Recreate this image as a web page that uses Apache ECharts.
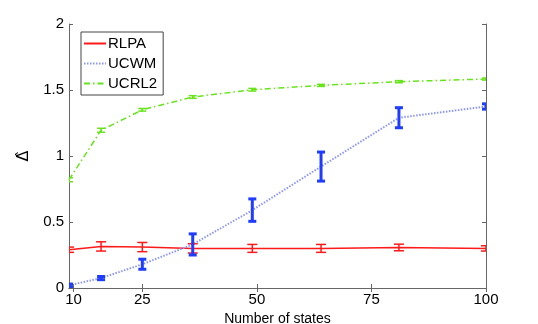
<!DOCTYPE html>
<html>
<head>
<meta charset="UTF-8">
<title>Delta vs number of states</title>
<style>
  html, body { margin: 0; padding: 0; background: #fff; }
  #chart { width: 538px; height: 324px; }
</style>
<script src="https://cdn.jsdelivr.net/npm/echarts@6/dist/echarts.min.js"></script>
</head>
<body>
<div id="chart"></div>
<script>
// data
const states = [9, 16, 25, 36, 49, 64, 81, 100];
const xTicks = [10, 25, 50, 75, 100];

const rlpaMean = [0.29, 0.315, 0.31, 0.30, 0.30, 0.30, 0.307, 0.30];
const rlpaErr  = [0.02, 0.035, 0.035, 0.035, 0.03, 0.03, 0.025, 0.02];

const ucwmMean = [0.02, 0.075, 0.18, 0.33, 0.59, 0.92, 1.29, 1.375];
const ucwmErr  = [0.01, 0.012, 0.038, 0.08, 0.085, 0.11, 0.076, 0.02];

const ucrl2Mean = [0.82, 1.195, 1.35, 1.447, 1.502, 1.535, 1.563, 1.583];
const ucrl2Err  = [0.015, 0.015, 0.01, 0.01, 0.01, 0.008, 0.008, 0.008];

const RED = '#ff1a1a', BLUE = '#1f3dff', BLUE_LINE = '#8c96ff', GREEN = '#66e61a';

function pairs(mean) { return states.map((x, i) => [x, mean[i]]); }
function bars(mean, err) { return states.map((x, i) => [x, mean[i] - err[i], mean[i] + err[i]]); }

// draws an I-shaped error bar
function errRender(color, lw, cap) {
  return function (params, api) {
    const x = api.value(0);
    const lo = api.coord([x, api.value(1)]);
    const hi = api.coord([x, api.value(2)]);
    const st = { stroke: color, lineWidth: lw };
    return {
      type: 'group',
      children: [
        { type: 'line', shape: { x1: lo[0], y1: lo[1], x2: hi[0], y2: hi[1] }, style: st },
        { type: 'line', shape: { x1: lo[0] - cap, y1: lo[1], x2: lo[0] + cap, y2: lo[1] }, style: st },
        { type: 'line', shape: { x1: hi[0] - cap, y1: hi[1], x2: hi[0] + cap, y2: hi[1] }, style: st }
      ]
    };
  };
}

const chart = echarts.init(document.getElementById('chart'));
const axisCol = '#666';
const font = 'Liberation Sans, Arial, sans-serif';

chart.setOption({
  animation: false,
  grid: { left: 69, right: 52, top: 24, bottom: 36, outerBoundsMode: 'none', containLabel: false },
  legend: {
    data: ['RLPA', 'UCWM', 'UCRL2'],
    orient: 'vertical',
    left: 81, top: 32,
    itemWidth: 22, itemHeight: 8, itemGap: 5,
    padding: [4, 6, 4, 2],
    borderColor: '#444', borderWidth: 1,
    backgroundColor: '#fff',
    itemStyle: { opacity: 0 },
    textStyle: { fontFamily: font, fontSize: 15, color: '#000', padding: [0, 0, 0, -3] }
  },
  xAxis: [{
    type: 'value', min: 9, max: 100,
    name: 'Number of states', nameLocation: 'middle', nameGap: 20,
    nameTextStyle: { fontFamily: font, fontSize: 14, color: '#000' },
    axisLine: { lineStyle: { color: axisCol } },
    axisTick: { inside: true, length: 4, customValues: xTicks, lineStyle: { color: axisCol } },
    axisLabel: { customValues: xTicks, fontFamily: font, fontSize: 15, color: '#000', margin: 4 },
    splitLine: { show: false }
  }, {
    type: 'value', min: 9, max: 100, position: 'top',
    axisLine: { show: true, lineStyle: { color: axisCol } },
    axisTick: { inside: true, length: 4, customValues: xTicks, lineStyle: { color: axisCol } },
    axisLabel: { show: false },
    splitLine: { show: false }
  }],
  yAxis: [{
    type: 'value', min: 0, max: 2, interval: 0.5,
    name: 'Δ\u0302', nameLocation: 'middle', nameGap: 29, nameRotate: 90,
    nameTextStyle: { fontFamily: 'DejaVu Sans', fontSize: 16, color: '#000' },
    axisLine: { show: true, lineStyle: { color: axisCol } },
    axisTick: { inside: true, length: 4, lineStyle: { color: axisCol } },
    axisLabel: { fontFamily: font, fontSize: 15, color: '#000', margin: 5 },
    splitLine: { show: false }
  }, {
    type: 'value', min: 0, max: 2, interval: 0.5, position: 'right',
    axisLine: { show: true, lineStyle: { color: axisCol } },
    axisTick: { inside: true, length: 4, lineStyle: { color: axisCol } },
    axisLabel: { show: false },
    splitLine: { show: false }
  }],
  series: [
    {
      name: 'RLPA', type: 'line', data: pairs(rlpaMean), symbol: 'none',
      itemStyle: { color: RED }, lineStyle: { color: RED, width: 1.5 }
    },
    {
      name: 'UCWM', type: 'line', data: pairs(ucwmMean), symbol: 'none',
      itemStyle: { color: BLUE_LINE }, lineStyle: { color: BLUE_LINE, width: 2, type: [1.5, 1.5] }
    },
    {
      name: 'UCRL2', type: 'line', data: pairs(ucrl2Mean), symbol: 'none',
      itemStyle: { color: GREEN }, lineStyle: { color: GREEN, width: 1.5, type: [6, 3, 1.5, 3] }
    },
    {
      name: 'RLPA err', type: 'custom', clip: true, data: bars(rlpaMean, rlpaErr),
      renderItem: errRender(RED, 1.5, 5), z: 5
    },
    {
      name: 'UCWM err', type: 'custom', clip: true, data: bars(ucwmMean, ucwmErr),
      renderItem: errRender(BLUE, 3, 4), z: 5
    },
    {
      name: 'UCRL2 err', type: 'custom', clip: true, data: bars(ucrl2Mean, ucrl2Err),
      renderItem: errRender(GREEN, 1.5, 4), z: 5
    }
  ]
});
</script>
</body>
</html>
